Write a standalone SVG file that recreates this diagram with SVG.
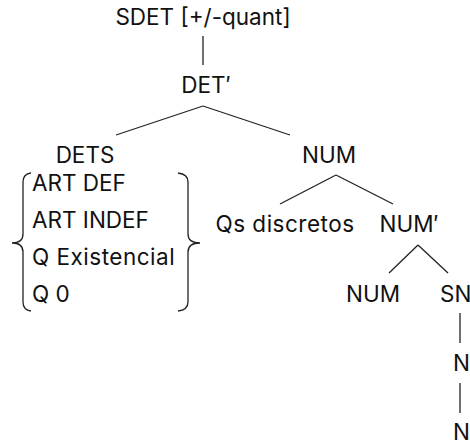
<svg xmlns="http://www.w3.org/2000/svg" width="470" height="442" viewBox="0 0 470 442">
  <style>
    text { font-family: Inter, "Liberation Sans", sans-serif; font-size: 22.5px; fill: #111; }
    .c { text-anchor: middle; }
    .w { letter-spacing: 0.5px; }
    #edges line, #edges path { stroke: #222; stroke-width: 1.3; fill: none; }
  </style>
  <rect width="470" height="442" fill="#fff"/>

  <g id="edges">
    <line x1="203" y1="36" x2="203" y2="65"/>
    <line x1="203" y1="106" x2="116" y2="135"/>
    <line x1="203" y1="106" x2="290" y2="135"/>
    <line x1="336" y1="175" x2="280" y2="204"/>
    <line x1="336" y1="175" x2="393" y2="204"/>
    <line x1="418" y1="245" x2="389" y2="273"/>
    <line x1="418" y1="245" x2="448" y2="273"/>
    <line x1="460" y1="313" x2="460" y2="343"/>
    <line x1="460" y1="383" x2="460" y2="413"/>
    <!-- braces around the DETS list -->
    <path d="M31,173 Q23,174 23,182 L23,234 Q23,243 12,243 Q23,243 23,252 L23,302 Q23,310 31,311"/>
    <path d="M178,173 Q188,174 188,182 L188,234 Q188,243 200,243 Q188,243 188,252 L188,302 Q188,310 178,311"/>
  </g>

  <g id="sdet"><text class="c" x="203" y="25">SDET [+/-quant]</text></g>
  <g id="detbar"><text class="c" x="206" y="93">DET′</text></g>
  <g id="dets">
    <text class="c" x="85" y="163">DETS</text>
    <text x="32" y="191">ART DEF</text>
    <text x="32" y="228">ART INDEF</text>
    <text class="w" x="32" y="265">Q Existencial</text>
    <text x="32" y="302">Q 0</text>
  </g>
  <g id="num"><text class="c" x="329" y="163">NUM</text></g>
  <g id="qs"><text class="c w" x="285" y="232">Qs discretos</text></g>
  <g id="numbar"><text class="c" x="409" y="232">NUM′</text></g>
  <g id="num-head"><text class="c" x="373" y="302">NUM</text></g>
  <g id="sn"><text x="440" y="302">SN</text></g>
  <g id="nbar"><text x="453" y="371">N′</text></g>
  <g id="n"><text x="453" y="440">N</text></g>
</svg>
